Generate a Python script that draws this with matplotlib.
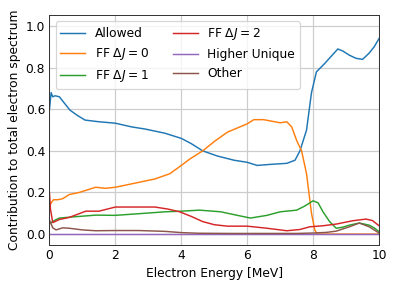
import matplotlib
matplotlib.use('Agg')
import matplotlib.pyplot as plt

# values
allowed_x = [0.0, 0.05, 0.1, 0.17, 0.3, 0.45, 0.62, 0.85, 1.08, 1.5, 2.0, 2.5, 2.9, 3.5, 4.0, 4.3, 4.65, 5.1, 5.6, 6.0, 6.3, 6.7, 7.2, 7.45, 7.6, 7.8, 7.95, 8.1, 8.35, 8.55, 8.75, 8.9, 9.1, 9.3, 9.5, 9.7, 9.85, 10.0]
allowed_y = [0.60, 0.68, 0.66, 0.665, 0.66, 0.63, 0.596, 0.57, 0.548, 0.54, 0.533, 0.515, 0.505, 0.485, 0.46, 0.435, 0.40, 0.375, 0.355, 0.345, 0.33, 0.335, 0.34, 0.355, 0.40, 0.50, 0.68, 0.78, 0.82, 0.855, 0.89, 0.88, 0.86, 0.845, 0.84, 0.87, 0.90, 0.94]

ff0_x = [0.0, 0.05, 0.12, 0.25, 0.4, 0.6, 0.9, 1.2, 1.4, 1.7, 2.0, 2.6, 3.2, 3.65, 4.0, 4.25, 4.65, 5.0, 5.4, 5.7, 6.0, 6.2, 6.5, 7.0, 7.2, 7.35, 7.5, 7.65, 7.8, 7.95, 8.05, 8.12, 9.0, 10.0]
ff0_y = [0.13, 0.15, 0.165, 0.165, 0.17, 0.19, 0.20, 0.215, 0.225, 0.22, 0.225, 0.245, 0.265, 0.29, 0.33, 0.36, 0.40, 0.445, 0.49, 0.51, 0.53, 0.55, 0.55, 0.535, 0.54, 0.515, 0.45, 0.40, 0.29, 0.10, 0.02, 0.0, 0.0, 0.0]

ff1_x = [0.0, 0.17, 0.3, 0.75, 1.4, 2.0, 2.9, 3.5, 4.0, 4.55, 5.2, 5.7, 6.1, 6.6, 7.0, 7.5, 7.75, 8.0, 8.15, 8.3, 8.5, 8.7, 8.9, 9.1, 9.4, 9.7, 9.85, 10.0]
ff1_y = [0.05, 0.067, 0.077, 0.083, 0.091, 0.09, 0.10, 0.107, 0.11, 0.115, 0.107, 0.09, 0.077, 0.09, 0.107, 0.115, 0.135, 0.16, 0.15, 0.107, 0.06, 0.028, 0.033, 0.043, 0.053, 0.043, 0.03, 0.012]

ff2_x = [0.0, 0.03, 0.1, 0.3, 0.6, 0.85, 1.1, 1.5, 2.0, 2.6, 3.2, 3.6, 3.95, 4.3, 4.65, 5.0, 5.4, 6.0, 6.6, 7.2, 7.6, 7.9, 8.3, 8.7, 9.2, 9.6, 9.8, 10.0]
ff2_y = [0.20, 0.12, 0.055, 0.07, 0.08, 0.095, 0.11, 0.11, 0.13, 0.13, 0.13, 0.12, 0.107, 0.085, 0.06, 0.045, 0.038, 0.038, 0.028, 0.016, 0.022, 0.035, 0.04, 0.048, 0.064, 0.072, 0.065, 0.04]

hu_x = [0.0, 10.0]
hu_y = [0.001, 0.001]

other_x = [0.0, 0.1, 0.2, 0.4, 0.6, 1.0, 1.4, 2.0, 2.7, 3.5, 4.0, 4.5, 5.5, 7.5, 8.0, 8.4, 8.7, 9.1, 9.4, 9.7, 9.85, 10.0]
other_y = [0.067, 0.03, 0.02, 0.03, 0.028, 0.02, 0.016, 0.017, 0.017, 0.013, 0.007, 0.004, 0.003, 0.003, 0.005, 0.008, 0.014, 0.035, 0.053, 0.035, 0.02, 0.005]

series = [
    (allowed_x, allowed_y, 'Allowed'),
    (ff0_x, ff0_y, r'FF $\Delta J = 0$'),
    (ff1_x, ff1_y, r'FF $\Delta J = 1$'),
    (ff2_x, ff2_y, r'FF $\Delta J = 2$'),
    (hu_x, hu_y, 'Higher Unique'),
    (other_x, other_y, 'Other'),
]

plt.rcParams['xtick.major.size'] = 0
plt.rcParams['ytick.major.size'] = 0

DPI = 88
fig = plt.figure(figsize=(399 / DPI, 284 / DPI), dpi=DPI)
ax = fig.add_axes([0.124, 0.137, 0.826, 0.81])

for x, y, label in series:
    ax.plot(x, y, label=label, linewidth=1.2)

ax.set_xlim(0, 10)
ax.set_ylim(-0.053, 1.053)
ax.set_xlabel('Electron Energy [MeV]')
ax.set_ylabel('Contribution to total electron spectrum')
ax.grid(True, color='#cccccc', linewidth=1.0)
ax.set_axisbelow(True)
for s in ax.spines.values():
    s.set_color('#333333')
ax.legend(loc='upper left', ncol=2)

fig.savefig('out.png', dpi=DPI)
